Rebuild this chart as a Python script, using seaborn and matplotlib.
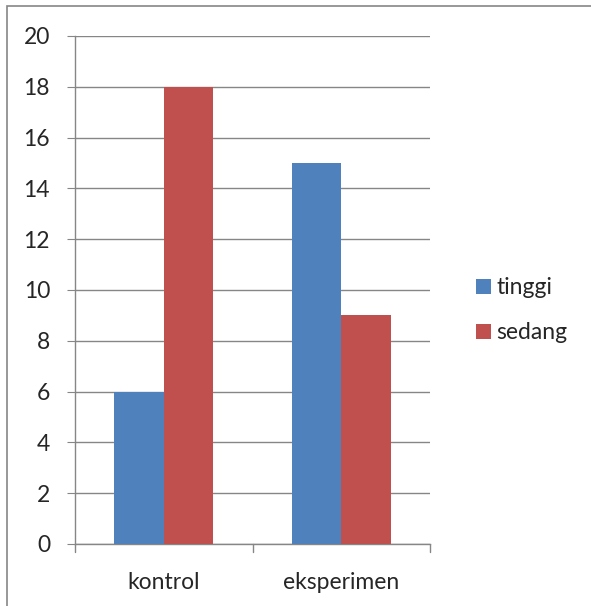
import matplotlib
matplotlib.use("Agg")
import matplotlib.pyplot as plt
from matplotlib.patches import Rectangle
import seaborn as sns
import pandas as pd

groups = ["kontrol", "eksperimen"]
levels = ["tinggi", "sedang"]
tinggi = [6, 15]
sedang = [18, 9]
yticks = [0, 2, 4, 6, 8, 10, 12, 14, 16, 18, 20]

df = pd.DataFrame({
    "kelompok": groups * 2,
    "kategori": [levels[0]] * 2 + [levels[1]] * 2,
    "nilai": tinggi + sedang,
})

sns.set_style("white")
plt.rcParams["font.family"] = ["Lato", "DejaVu Sans"]

W, H = 591, 606
fig = plt.figure(figsize=(W / 100, H / 100), dpi=100)
ax = fig.add_axes([75 / W, 1 - 544 / H, (430 - 75) / W, (544 - 36) / H])

grid_c = "#868686"
fs = 16.5
sns.barplot(data=df, x="kelompok", y="nilai", hue="kategori",
            palette=["#4F81BD", "#C0504D"], width=0.555, saturation=1,
            edgecolor="none", ax=ax, zorder=3)

ax.set_ylim(0, 20)
ax.set_xlim(-0.5, 1.5)
ax.set_yticks(yticks)
ax.set_yticklabels([str(v) for v in yticks], fontsize=fs)
ax.yaxis.grid(True, color=grid_c, linewidth=1)
ax.set_axisbelow(True)
ax.set_xlabel("")
ax.set_ylabel("")
ax.tick_params(axis="x", length=0, pad=20, labelsize=fs)
ax.tick_params(axis="y", length=6, color=grid_c, pad=12, left=True)
for s in ["top", "right"]:
    ax.spines[s].set_visible(False)
for s in ["left", "bottom"]:
    ax.spines[s].set_color(grid_c)
    ax.spines[s].set_linewidth(1)

# category separator ticks below the axis
for xv in [-0.5, 0.5, 1.5]:
    ax.plot([xv, xv], [0, -0.3], color=grid_c, lw=1, clip_on=False)

leg = ax.legend(loc="center left", bbox_to_anchor=((455 - 75) / (430 - 75), 0.46),
                frameon=False, fontsize=fs, handlelength=0.65, handleheight=0.65,
                handletextpad=0.25, labelspacing=1.05)

# outer chart border
fig.patches.append(Rectangle((7 / W, -0.05), 1.1, 1 - 6 / H + 0.05,
                             transform=fig.transFigure, fill=False,
                             edgecolor=grid_c, linewidth=1.2))

fig.savefig("out.png", dpi=100)
